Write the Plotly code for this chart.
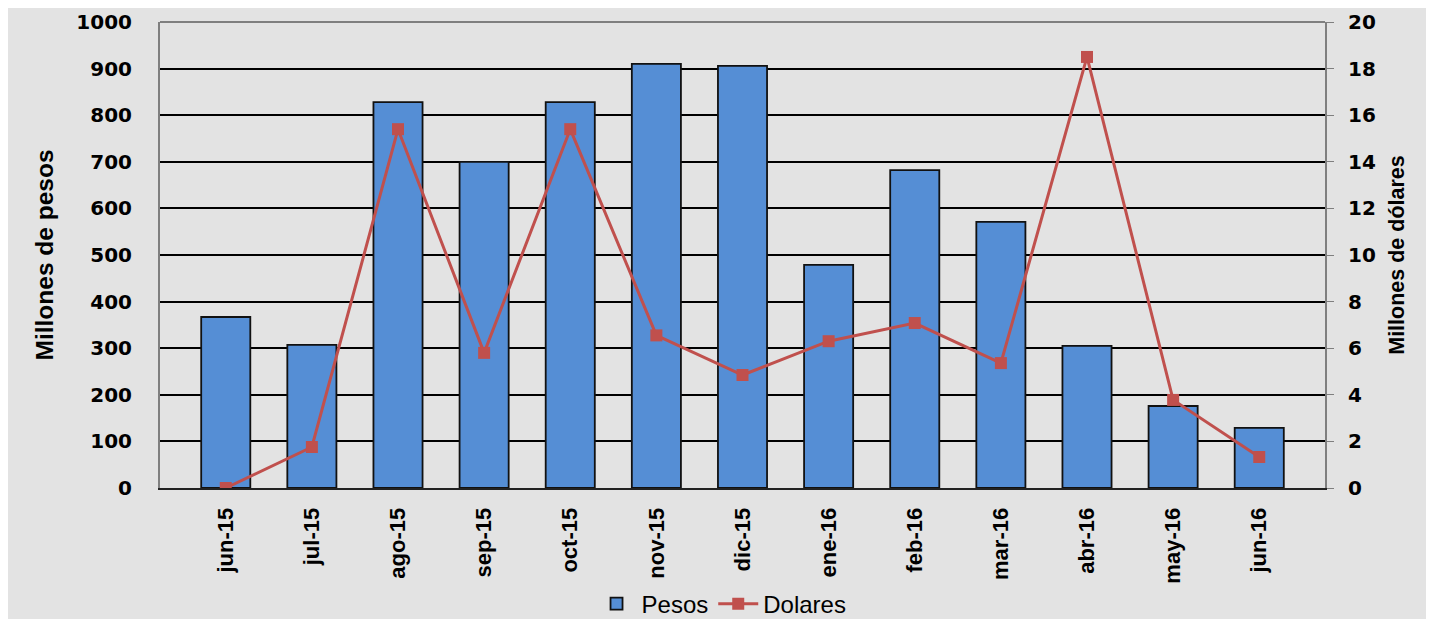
import plotly.graph_objects as go

meses = ["jun-15", "jul-15", "ago-15", "sep-15", "oct-15", "nov-15", "dic-15",
         "ene-16", "feb-16", "mar-16", "abr-16", "may-16", "jun-16"]
pesos = [367, 307, 828, 700, 828, 910, 906, 479, 682, 571, 305, 176, 129]
dolares = [0.0, 1.76, 15.4, 5.8, 15.4, 6.55, 4.85, 6.3, 7.08, 5.36, 18.5, 3.78, 1.33]

lib = "Liberation Sans, Arial, sans-serif"
dej = "DejaVu Sans, sans-serif"

fig = go.Figure()
fig.add_trace(go.Bar(
    x=meses, y=pesos, name="Pesos",
    marker=dict(color="#558ED5", line=dict(color="#111111", width=1.8)),
    width=0.57,
))
fig.add_trace(go.Scatter(
    x=meses, y=dolares, name="Dolares", yaxis="y2", mode="lines+markers",
    line=dict(color="#C0504D", width=3),
    marker=dict(symbol="square", size=12, color="#C0504D"),
))

fig.update_layout(
    width=1418, height=611,
    margin=dict(l=152, r=101, t=14, b=131, autoexpand=False),
    paper_bgcolor="#e3e3e3", plot_bgcolor="#e3e3e3",
    font=dict(family=lib, color="#000000"),
    xaxis=dict(
        tickangle=-90, tickfont=dict(size=22, family=lib, weight="bold"),
        showline=True, linecolor="#222222", linewidth=2, mirror=False,
        showgrid=False, ticks="", ticklabelstandoff=9, automargin=False,
    ),
    yaxis=dict(
        range=[0, 1000], dtick=100, showgrid=True, gridcolor="#000000", gridwidth=2.2,
        tickfont=dict(size=20, family=dej, weight="bold"),
        title=dict(text="Millones de pesos", font=dict(size=24.5, family=lib, weight="bold"), standoff=16),
        showline=True, linecolor="#7f7f7f", linewidth=2, zeroline=False,
        ticks="", ticklabelstandoff=22, automargin=False,
    ),
    yaxis2=dict(
        range=[0, 20], dtick=2, overlaying="y", side="right", showgrid=False,
        tickfont=dict(size=20, family=dej, weight="bold"),
        title=dict(text="Millones de dólares", font=dict(size=21.5, family=lib, weight="bold"), standoff=14),
        showline=True, linecolor="#7f7f7f", linewidth=2, zeroline=False,
        ticks="outside", ticklen=7, tickcolor="#7f7f7f", ticklabelstandoff=10,
        automargin=False,
    ),
    legend=dict(
        orientation="h", x=0.482, xanchor="center", y=-0.249, yanchor="middle",
        font=dict(size=24, family=lib), bgcolor="rgba(0,0,0,0)",
        traceorder="normal", itemwidth=40,
    ),
    shapes=[dict(type="line", xref="paper", yref="paper", x0=0, x1=1, y0=1, y1=1,
                 line=dict(color="#7f7f7f", width=2))],
)

fig.write_html("out.html")
